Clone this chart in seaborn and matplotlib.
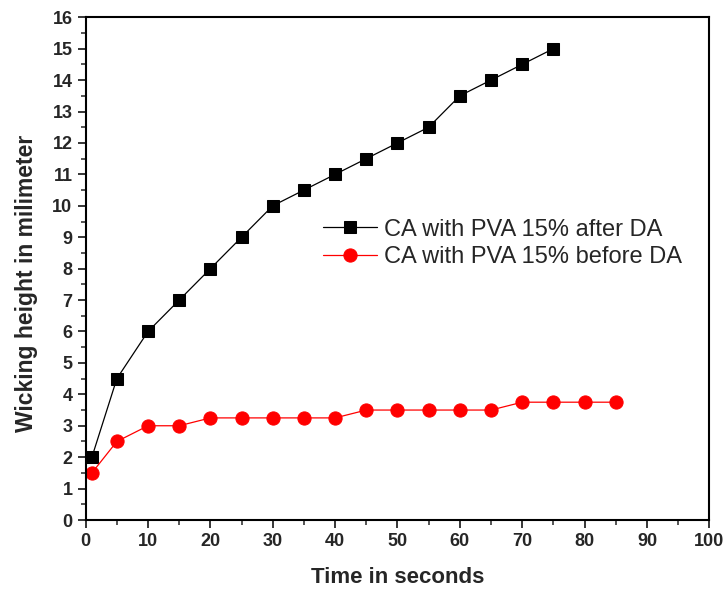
import numpy as np
import pandas as pd
import matplotlib
matplotlib.use("Agg")
import matplotlib.pyplot as plt
import seaborn as sns
from matplotlib.ticker import MultipleLocator

time_after  = [1, 5, 10, 15, 20, 25, 30, 35, 40, 45, 50, 55, 60, 65, 70, 75]
height_after = [2, 4.5, 6, 7, 8, 9, 10, 10.5, 11, 11.5, 12, 12.5, 13.5, 14, 14.5, 15]

time_before  = [1, 5, 10, 15, 20, 25, 30, 35, 40, 45, 50, 55, 60, 65, 70, 75, 80, 85]
height_before = [1.5, 2.5, 3, 3, 3.25, 3.25, 3.25, 3.25, 3.25, 3.5, 3.5, 3.5, 3.5, 3.5,
                 3.75, 3.75, 3.75, 3.75]

label_after  = "CA with PVA 15% after DA"
label_before = "CA with PVA 15% before DA"

sns.set_style("ticks")
plt.rcParams["font.family"] = ["Liberation Sans", "DejaVu Sans"]

fig, ax = plt.subplots(figsize=(7.26, 5.95), dpi=100)
fig.subplots_adjust(left=0.118, right=0.977, top=0.971, bottom=0.126)

sns.lineplot(x=time_after, y=height_after, ax=ax, color="black", lw=0.9,
             marker="s", markersize=8, markeredgecolor="black", label=label_after)
sns.lineplot(x=time_before, y=height_before, ax=ax, color="red", lw=0.9,
             marker="o", markersize=9.5, markeredgecolor="red", label=label_before)

ax.set_xlim(0, 100)
ax.set_ylim(0, 16)
ax.xaxis.set_major_locator(MultipleLocator(10))
ax.xaxis.set_minor_locator(MultipleLocator(5))
ax.yaxis.set_major_locator(MultipleLocator(1))
ax.yaxis.set_minor_locator(MultipleLocator(0.5))
ax.tick_params(which="major", direction="out", length=6, width=1.3,
               labelsize=13, top=False, right=False)
ax.tick_params(which="minor", direction="out", length=3.5, width=1.1,
               top=False, right=False)
for lab in ax.get_xticklabels() + ax.get_yticklabels():
    lab.set_fontweight("bold")
for sp in ax.spines.values():
    sp.set_visible(True)
    sp.set_linewidth(1.5)
    sp.set_color("black")

ax.set_xlabel("Time in seconds", fontsize=16, fontweight="bold", labelpad=12)
ax.set_ylabel("Wicking height in milimeter", fontsize=16.5, fontweight="bold")
ax.yaxis.set_label_coords(-0.077, 0.47)

ax.legend(loc="upper left", bbox_to_anchor=(0.365, 0.618), frameon=False,
          fontsize=17, handlelength=2.3, handletextpad=0.3, labelspacing=0.22,
          borderaxespad=0)

fig.savefig("out.png", dpi=100)
